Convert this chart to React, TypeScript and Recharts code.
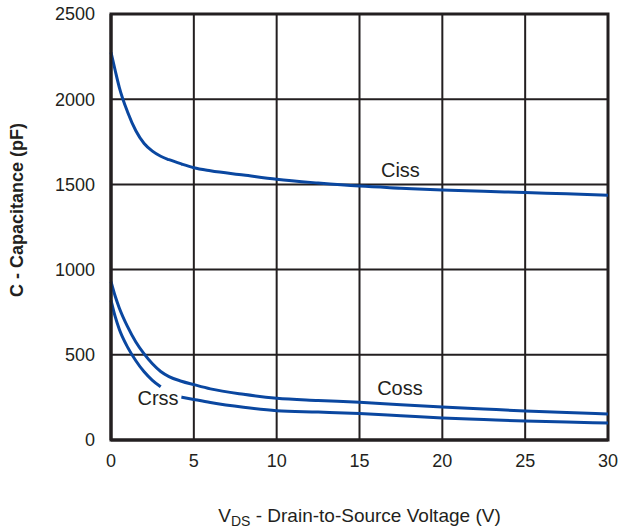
import { CartesianGrid, Line, LineChart, ReferenceArea, ReferenceDot, XAxis, YAxis } from 'recharts';

// drain-to-source voltage (V)
const vds = [0, 0.25, 0.5, 1, 1.5, 2, 2.5, 3, 3.5, 4.25, 5, 6, 8, 10, 12.5, 15, 17.5, 20, 22.5, 25, 27.5, 30];

// capacitances (pF)
const ciss = [2275, 2170, 2070, 1925, 1815, 1740, 1695, 1665, 1645, 1620, 1598, 1580, 1555, 1530, 1508, 1490, 1478, 1467, 1460, 1452, 1445, 1437];
const coss = [930, 845, 775, 665, 575, 505, 447, 402, 372, 345, 325, 300, 268, 245, 232, 221, 207, 194, 182, 170, 161, 153];
// gap around the "Crss" text
const crss = [820, 725, 650, 545, 465, 400, 350, 312, null, 252, 238, 220, 192, 172, 164, 155, 142, 129, 120, 111, 105, 100];

const xTicks = [0, 5, 10, 15, 20, 25, 30];
const yTicks = [0, 500, 1000, 1500, 2000, 2500];

const curveNames = ['Ciss', 'Coss', 'Crss'];
const curveLabelV = [17.47, 17.44, 2.84];
const curveLabelC = [1543, 264, 205];

const chartData = vds.map((v, i) => ({ v, ciss: ciss[i], coss: coss[i], crss: crss[i] }));

const CHART = {
  WIDTH: 621,
  HEIGHT: 528,
  INK: '#231f20',
  BLUE: '#0a47a0',
  FONT: '"Liberation Sans", Arial, sans-serif',
} as const;

const XTitle = ({ viewBox }: any) => (
  <text
    x={viewBox.x + viewBox.width / 2}
    y={viewBox.y + 82}
    textAnchor="middle"
    fontSize={19}
    fill={CHART.INK}
    fontFamily={CHART.FONT}
  >
    <tspan>V</tspan>
    <tspan fontSize={14} dy={4}>DS</tspan>
    <tspan dy={-4}> - Drain-to-Source Voltage (V)</tspan>
  </text>
);

const YTitle = () => (
  <text
    x={23}
    y={210}
    transform="rotate(-90, 23, 210)"
    textAnchor="middle"
    fontSize={18}
    fontWeight="bold"
    fill={CHART.INK}
    fontFamily={CHART.FONT}
  >
    C - Capacitance (pF)
  </text>
);

export default function App() {
  const tickStyle = { fontSize: 18, fill: CHART.INK, fontFamily: CHART.FONT };

  return (
    <div style={{ position: 'absolute', left: 0, top: 0 }}>
      <LineChart
        width={CHART.WIDTH}
        height={CHART.HEIGHT}
        data={chartData}
        margin={{ top: 14, right: 13, bottom: 0, left: 0 }}
      >
        <CartesianGrid stroke={CHART.INK} strokeWidth={2} />
        <XAxis
          dataKey="v"
          type="number"
          domain={[0, 30]}
          ticks={xTicks}
          height={88}
          tickLine={false}
          tickSize={0}
          tickMargin={14}
          axisLine={{ stroke: CHART.INK, strokeWidth: 3 }}
          tick={tickStyle}
          label={<XTitle />}
        />
        <YAxis
          type="number"
          domain={[0, 2500]}
          ticks={yTicks}
          width={111}
          tickLine={false}
          tickSize={0}
          tickMargin={16}
          axisLine={{ stroke: CHART.INK, strokeWidth: 3 }}
          tick={tickStyle}
          label={<YTitle />}
        />
        <ReferenceArea x1={0} x2={30} y1={0} y2={2500} fill="none" stroke={CHART.INK} strokeWidth={3} />
        <Line dataKey="ciss" type="monotone" stroke={CHART.BLUE} strokeWidth={3} dot={false} isAnimationActive={false} />
        <Line dataKey="coss" type="monotone" stroke={CHART.BLUE} strokeWidth={3} dot={false} isAnimationActive={false} />
        <Line
          dataKey="crss"
          type="monotone"
          stroke={CHART.BLUE}
          strokeWidth={3}
          dot={false}
          connectNulls={false}
          isAnimationActive={false}
        />
        {curveNames.map((name, i) => (
          <ReferenceDot
            key={name}
            x={curveLabelV[i]}
            y={curveLabelC[i]}
            r={0}
            shape={(p: any) => (
              <text x={p.cx} y={p.cy} textAnchor="middle" fontSize={20} fill={CHART.INK} fontFamily={CHART.FONT}>
                {name}
              </text>
            )}
          />
        ))}
      </LineChart>
    </div>
  );
}
